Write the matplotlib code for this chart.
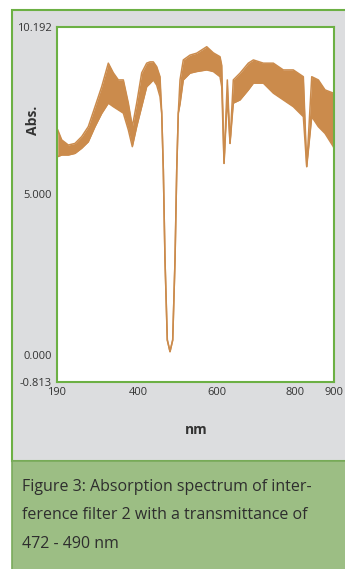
import matplotlib
matplotlib.use("Agg")
import matplotlib.pyplot as plt
from matplotlib.patches import Rectangle

# ---- data (nm, absorbance upper / lower envelope of noisy trace)
wavelength = [192.6, 202.8, 219.7, 236.8, 253.9, 270.8, 288.0, 305.1, 322.0, 334.8,
              347.6, 360.4, 373.2, 383.4, 394.6, 407.4, 420.2, 428.7, 437.1, 445.8,
              454.2, 458.6, 462.7, 467.0, 472.9, 479.8, 486.7, 492.6, 497.0, 501.0,
              505.4, 513.8, 531.0, 548.1, 573.7, 590.6, 607.7, 612.1, 618.0, 626.4,
              633.3, 641.7, 658.9, 680.1, 693.0, 718.5, 744.1, 769.6, 795.2, 820.8,
              829.5, 842.3, 859.2, 876.3, 897.5, 900.0]
abs_upper = [7.00, 6.69, 6.53, 6.58, 6.79, 7.10, 7.72, 8.34, 9.07, 8.77,
             8.55, 8.55, 7.83, 7.10, 7.83, 8.77, 9.07, 9.11, 9.11, 8.96,
             8.65, 7.52, 5.76, 2.96, 0.48, 0.12, 0.48, 2.96, 5.76, 7.52,
             8.55, 9.17, 9.32, 9.38, 9.58, 9.39, 9.27, 9.00, 5.96, 8.55,
             6.58, 8.55, 8.76, 9.07, 9.17, 9.07, 9.07, 8.86, 8.86, 8.65,
             5.86, 8.65, 8.55, 8.24, 8.14, 8.10]
abs_lower = [6.17, 6.22, 6.22, 6.27, 6.43, 6.63, 7.10, 7.51, 7.83, 7.72,
             7.62, 7.52, 7.00, 6.48, 7.10, 7.72, 8.34, 8.44, 8.55, 8.39,
             8.03, 7.52, 5.76, 2.96, 0.48, 0.12, 0.48, 2.96, 5.76, 7.52,
             7.80, 8.55, 8.76, 8.81, 8.86, 8.81, 8.65, 8.34, 5.96, 8.03,
             6.58, 7.83, 7.93, 8.24, 8.45, 8.45, 8.14, 7.93, 7.72, 7.41,
             5.86, 7.41, 7.10, 6.89, 6.48, 6.40]

y_ticks = [10.192, 5.000, 0.000, -0.813]
y_tick_labels = ["10.192", "5.000", "0.000", "-0.813"]
x_ticks = [190, 400, 600, 800, 900]
x_tick_labels = ["190", "400", "600", "800", "900"]

caption = ("Figure 3: Absorption spectrum of inter-\n"
           "ference filter 2 with a transmittance of\n"
           "472 - 490 nm")

W, H = 345, 569
fig = plt.figure(figsize=(W / 100, H / 100), dpi=100)
fig.patch.set_facecolor("white")

def fx(px):
    return px / W

def fy(py):
    return 1 - py / H

green = "#6cb044"
gray_bg = "#dcdddf"
cap_bg = "#9cbe84"
curve = "#cb8b4c"
txt = "#333333"

# background axes holding the panels
bg = fig.add_axes([0, 0, 1, 1], zorder=0)
bg.set_xlim(0, 1)
bg.set_ylim(0, 1)
bg.axis("off")
bg.add_patch(Rectangle((fx(11.5), fy(461)), 1.2, fy(10) - fy(461),
                       facecolor=gray_bg, edgecolor=green, linewidth=1.5))
bg.add_patch(Rectangle((fx(11.5), -0.05), 1.2, fy(461) + 0.05,
                       facecolor=cap_bg, edgecolor="#7aaa5c", linewidth=1.2))

ax = fig.add_axes([fx(56.7), fy(381.7), fx(334.3) - fx(56.7), fy(27) - fy(381.7)],
                  zorder=2)
ax.set_facecolor("white")
ax.fill_between(wavelength, abs_lower, abs_upper, color=curve, linewidth=0)
ax.plot(wavelength, abs_upper, color=curve, linewidth=1.1)
ax.plot(wavelength, abs_lower, color=curve, linewidth=1.1)

ax.set_xlim(190, 900)
ax.set_ylim(-0.813, 10.192)
ax.set_xticks(x_ticks)
ax.set_xticklabels(x_tick_labels)
ax.set_yticks(y_ticks)
ax.set_yticklabels(y_tick_labels)
for s in ax.spines.values():
    s.set_color(green)
    s.set_linewidth(1.5)
ax.tick_params(length=0, labelsize=8, labelcolor=txt, pad=3.5)
for lab in ax.get_xticklabels() + ax.get_yticklabels():
    lab.set_fontfamily("Open Sans")
ax.tick_params(axis="x", pad=4)

fig.text(fx(33), fy(120), "Abs.", rotation=90, ha="center", va="center",
         fontsize=10, fontweight="bold", color=txt, family="Open Sans", zorder=3)
fig.text(fx(196), fy(430), "nm", ha="center", va="center",
         fontsize=10, fontweight="bold", color=txt, family="Open Sans", zorder=3)

fig.text(fx(22), fy(479), caption, ha="left", va="top", fontsize=11.5,
         color="#2e2e2e", family="Open Sans", linespacing=2.03, zorder=3)

fig.savefig("out.png", dpi=100, facecolor=fig.get_facecolor())
